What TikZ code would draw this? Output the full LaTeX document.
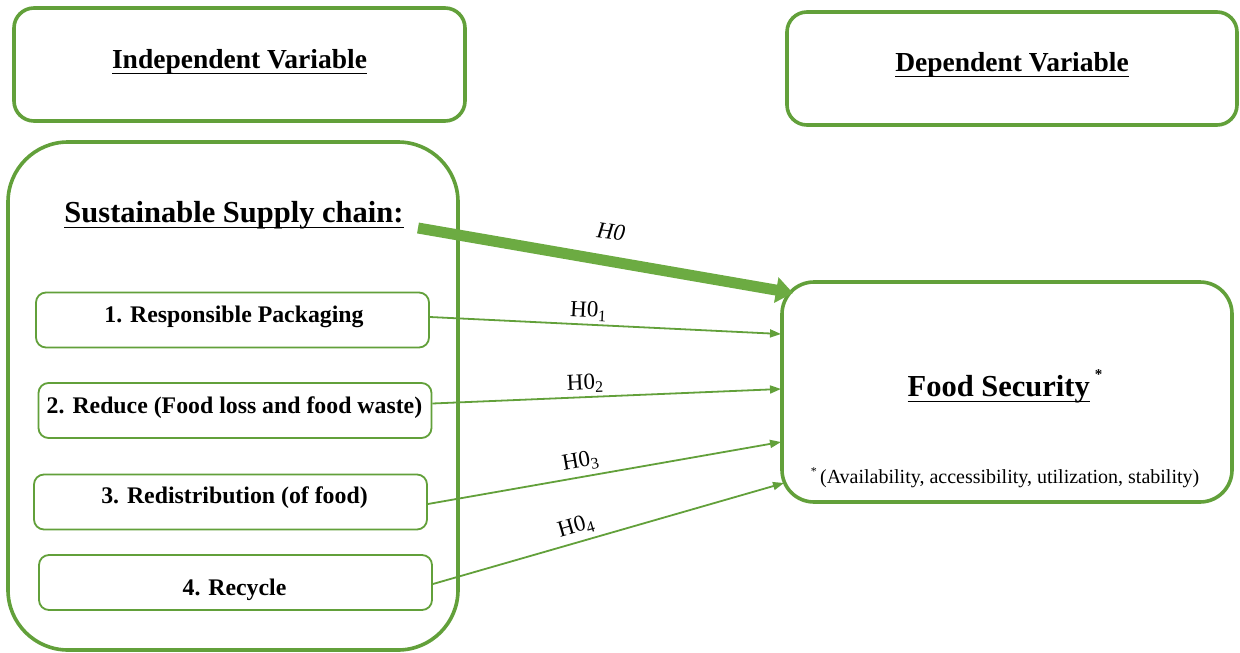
\documentclass[tikz,border=0pt]{standalone}
\usepackage{fontspec}
\setmainfont{Liberation Serif}
\newcommand\ulx[1]{\vtop{\setbox0=\hbox{#1}\dp0=0pt\box0\kern4pt\hrule height 1.6pt}}
\usetikzlibrary{arrows.meta,calc}
\definecolor{grn}{HTML}{62A03A}
\definecolor{grnfill}{HTML}{6CAB42}
\tikzset{
  bigbox/.style={draw=grn,line width=3.6pt,rounded corners=20pt,fill=white},
  itembox/.style={draw=grn,line width=1.8pt,rounded corners=10pt,minimum width=393pt,minimum height=55pt},
  headtxt/.style={font=\fontsize{27.5}{32}\selectfont\bfseries},
  bigtxt/.style={font=\fontsize{30.5}{36}\selectfont\bfseries},
  itemtxt/.style={font=\fontsize{23.8}{28}\selectfont\bfseries},
  lbl/.style={font=\fontsize{23}{27}\selectfont,inner sep=1pt},
  thin/.style={draw=grn,line width=1.8pt,-{Triangle[length=11pt,width=8pt]}},
  thick/.style={draw=grnfill,line width=11pt,-{Triangle[length=17pt,width=25pt]}}
}
\begin{document}
\begin{tikzpicture}[x=1pt,y=-1pt]
\useasboundingbox (0,0) rectangle (1240,653);
% header boxes
\node[bigbox,minimum width=451pt,minimum height=113pt] (ind) at (239.5,64.5) {};
\node[headtxt] (indt) at (239.5,62) {\ulx{Independent Variable}};
\node[bigbox,minimum width=450pt,minimum height=113pt] (dep) at (1012,68.5) {};
\node[headtxt] (dept) at (1012,65) {\ulx{Dependent Variable}};
% big left box
\node[bigbox,rounded corners=60pt,minimum width=450pt,minimum height=508pt] (ssb) at (233,396) {};
\node[bigtxt] (ssc) at (234,215) {\ulx{Sustainable Supply chain:}};
% items
\node[itembox] (r1) at (232.5,320) {};
\node[itemtxt] (r1t) at (234,317) {1. Responsible Packaging};
\node[itembox] (r2) at (235,410.5) {};
\node[itemtxt] (r2t) at (234.5,408) {2. Reduce (Food loss and food waste)};
\node[itembox] (r3) at (230.5,502) {};
\node[itemtxt] (r3t) at (234.5,498) {3. Redistribution (of food)};
\node[itembox] (r4) at (235.5,582.5) {};
\node[itemtxt] (r4t) at (234.5,590) {4. Recycle};
% food security box
\node[bigbox,rounded corners=32pt,minimum width=450pt,minimum height=220pt] (fs) at (1007,392) {};
\node[bigtxt] (fst) at (1005,386) {\ulx{Food Security}\,\raisebox{0.55em}{\fontsize{15}{17}\selectfont *}};
\node[font=\fontsize{20}{24}\selectfont] (fsn) at (1005,478) {\raisebox{0.4em}{\fontsize{12}{14}\selectfont *}\,(Availability, accessibility, utilization, stability)};
% connector end points
\coordinate (h0s) at (418,228);
\coordinate (h0e) at (793,293);
\coordinate (e1) at (781,334);
\coordinate (e2) at (781,389);
\coordinate (e3) at (781,442);
\coordinate (e4) at (784,483);
% arrows
\draw[thick] (h0s) -- (h0e);
\node[lbl,font=\fontsize{23}{27}\selectfont\itshape,rotate=-7] (h0l) at (611,232) {H0};
\draw[thin] ([yshift=3pt]r1.east) -- (e1) node[lbl,pos=0.45,sloped,above=2pt] {H0\textsubscript{1}};
\draw[thin] ([yshift=7pt]r2.east) -- (e2) node[lbl,pos=0.44,sloped,above=2pt] {H0\textsubscript{2}};
\draw[thin] ([yshift=-2pt]r3.east) -- (e3) node[lbl,pos=0.44,sloped,above=4pt] {H0\textsubscript{3}};
\draw[thin] ([yshift=-1.5pt]r4.east) -- (e4) node[lbl,pos=0.42,sloped,above=4pt] {H0\textsubscript{4}};
\end{tikzpicture}
\end{document}
